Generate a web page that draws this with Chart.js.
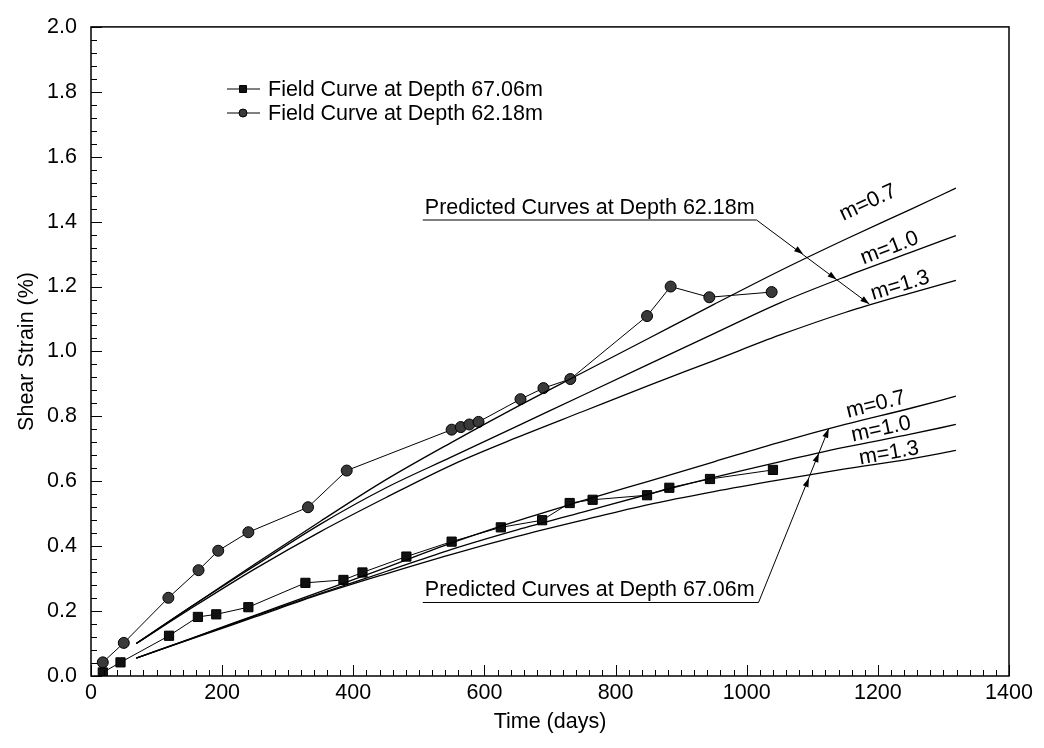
<!DOCTYPE html>
<html>
<head>
<meta charset="utf-8">
<title>Shear Strain vs Time</title>
<script src="https://cdn.jsdelivr.net/npm/chart.js@4.4.1/dist/chart.umd.min.js"></script>
<style>
  html, body { margin: 0; padding: 0; background: #fff; }
  #wrap { width: 1044px; height: 748px; }
</style>
</head>
<body>
<div id="wrap"><canvas id="strainChart" width="1044" height="748"></canvas></div>
<script>
// Field curve at depth 67.06 m (squares)
const daysField67 = [18, 45, 119, 163, 191, 240, 327, 385, 414, 481, 550, 625, 688, 730, 765, 848, 882, 944, 1040];
const strainField67 = [0.011, 0.042, 0.124, 0.182, 0.190, 0.212, 0.287, 0.296, 0.319, 0.368, 0.414, 0.458, 0.480, 0.533, 0.543, 0.557, 0.580, 0.607, 0.635];

// Field curve at depth 62.18 m (circles)
const daysField62 = [18, 50, 118, 164, 194, 240, 331, 390, 550, 564, 577, 591, 655, 690, 731, 848, 884, 943, 1038];
const strainField62 = [0.042, 0.102, 0.241, 0.326, 0.386, 0.443, 0.520, 0.633, 0.759, 0.767, 0.775, 0.783, 0.853, 0.887, 0.915, 1.109, 1.200, 1.167, 1.183];

// Predicted curves (same time points for all six)
const daysPred = [69, 150, 250, 350, 450, 550, 650, 750, 850, 950, 1050, 1150, 1250, 1319];
const pred62_m07 = [0.100, 0.210, 0.345, 0.477, 0.605, 0.720, 0.830, 0.935, 1.040, 1.145, 1.248, 1.345, 1.438, 1.503];
const pred62_m10 = [0.100, 0.210, 0.340, 0.468, 0.580, 0.675, 0.770, 0.865, 0.960, 1.055, 1.149, 1.230, 1.305, 1.357];
const pred62_m13 = [0.100, 0.205, 0.330, 0.445, 0.550, 0.650, 0.735, 0.815, 0.895, 0.972, 1.050, 1.120, 1.180, 1.219];
const pred67_m07 = [0.055, 0.114, 0.187, 0.260, 0.334, 0.410, 0.478, 0.540, 0.600, 0.660, 0.720, 0.775, 0.825, 0.862];
const pred67_m10 = [0.055, 0.113, 0.185, 0.255, 0.322, 0.390, 0.450, 0.505, 0.560, 0.612, 0.660, 0.705, 0.745, 0.775];
const pred67_m13 = [0.055, 0.112, 0.182, 0.252, 0.315, 0.375, 0.430, 0.480, 0.528, 0.568, 0.604, 0.638, 0.669, 0.695];

// Axis ranges / ticks
const xMin = 0, xMax = 1400, xStep = 200, xMinor = 20;
const yMin = 0, yMax = 2.0, yStep = 0.2, yMinor = 0.04;

const FONT = "'Liberation Sans', Arial, Helvetica, sans-serif";
const FONT_SIZE = 21.5;

function toPoints(xs, ys) {
    return xs.map((d, i) => ({ x: d, y: ys[i] }));
}

function predSet(values) {
    return {
        data: toPoints(daysPred, values),
        showLine: true,
        borderColor: '#000',
        borderWidth: 1.3,
        pointRadius: 0,
        cubicInterpolationMode: 'monotone',
        fill: false
    };
}

// Annotation text and arrows (data coordinates)
const notes = [
    {
        text: 'Predicted Curves at Depth 62.18m',
        under: [506, 1015, 1.405],
        arrowEnd: [1187, 1.146],
        heads: [[1086, 1.300], [1137, 1.222], [1187, 1.146]]
    },
    {
        text: 'Predicted Curves at Depth 67.06m',
        under: [506, 1018, 0.2265],
        arrowEnd: [1125, 0.762],
        heads: [[1095, 0.610], [1110, 0.686], [1125, 0.762]]
    }
];

const mLabels = [
    { text: 'm=0.7', at: [1185, 1.458], angle: -25 },
    { text: 'm=1.0', at: [1218, 1.318], angle: -21 },
    { text: 'm=1.3', at: [1234, 1.203], angle: -17 },
    { text: 'm=0.7', at: [1197, 0.836], angle: -14 },
    { text: 'm=1.0', at: [1205, 0.760], angle: -12 },
    { text: 'm=1.3', at: [1217, 0.686], angle: -10 }
];

const legendItems = [
    { text: 'Field Curve at Depth 67.06m', marker: 'square' },
    { text: 'Field Curve at Depth 62.18m', marker: 'circle' }
];

function drawMarker(ctx, kind, px, py, r) {
    ctx.beginPath();
    if (kind === 'square') {
        ctx.rect(px - r, py - r, 2 * r, 2 * r);
        ctx.fillStyle = '#111';
    } else {
        ctx.arc(px, py, r, 0, Math.PI * 2);
        ctx.fillStyle = '#3a3a3a';
    }
    ctx.fill();
    ctx.lineWidth = 1;
    ctx.strokeStyle = '#000';
    ctx.stroke();
}

function arrowHead(ctx, fromX, fromY, tipX, tipY) {
    const ang = Math.atan2(tipY - fromY, tipX - fromX);
    const len = 9, half = 3;
    ctx.beginPath();
    ctx.moveTo(tipX, tipY);
    ctx.lineTo(tipX - len * Math.cos(ang) + half * Math.sin(ang), tipY - len * Math.sin(ang) - half * Math.cos(ang));
    ctx.lineTo(tipX - len * Math.cos(ang) - half * Math.sin(ang), tipY - len * Math.sin(ang) + half * Math.cos(ang));
    ctx.closePath();
    ctx.fill();
}

const framePlugin = {
    id: 'framePlugin',
    afterDatasetsDraw(chart) {
        const { ctx, chartArea: a } = chart;
        const x = chart.scales.x, y = chart.scales.y;
        ctx.save();

        // frame
        ctx.strokeStyle = '#000';
        ctx.lineWidth = 1.5;
        ctx.strokeRect(a.left, a.top, a.right - a.left, a.bottom - a.top);

        // inward ticks on bottom and left
        ctx.lineWidth = 1;
        ctx.beginPath();
        const nx = Math.round((xMax - xMin) / xMinor);
        for (let i = 0; i <= nx; i++) {
            const px = Math.round(x.getPixelForValue(xMin + i * xMinor)) + 0.5;
            const len = (i % (xStep / xMinor) === 0) ? 11 : 6;
            ctx.moveTo(px, a.bottom);
            ctx.lineTo(px, a.bottom - len);
        }
        const ny = Math.round((yMax - yMin) / yMinor);
        for (let i = 0; i <= ny; i++) {
            const py = Math.round(y.getPixelForValue(yMin + i * yMinor)) + 0.5;
            const len = (i % Math.round(yStep / yMinor) === 0) ? 11 : 6;
            ctx.moveTo(a.left, py);
            ctx.lineTo(a.left + len, py);
        }
        ctx.stroke();

        // axis titles
        ctx.fillStyle = '#000';
        ctx.font = FONT_SIZE + 'px ' + FONT;
        ctx.textAlign = 'center';
        ctx.textBaseline = 'middle';
        ctx.fillText('Time (days)', (a.left + a.right) / 2, 722);
        ctx.save();
        ctx.translate(27, (a.top + a.bottom) / 2);
        ctx.rotate(-Math.PI / 2);
        ctx.fillText('Shear Strain (%)', 0, 0);
        ctx.restore();

        // annotations with underline + arrows
        notes.forEach(n => {
            const x0 = x.getPixelForValue(n.under[0]);
            const x1 = x.getPixelForValue(n.under[1]);
            const yu = y.getPixelForValue(n.under[2]);
            ctx.textAlign = 'left';
            ctx.textBaseline = 'alphabetic';
            ctx.fillText(n.text, x0 + 2, yu - 6);
            ctx.beginPath();
            ctx.lineWidth = 1;
            ctx.moveTo(x0, yu);
            ctx.lineTo(x1, yu);
            const ex = x.getPixelForValue(n.arrowEnd[0]);
            const ey = y.getPixelForValue(n.arrowEnd[1]);
            ctx.lineTo(ex, ey);
            ctx.stroke();
            n.heads.forEach(h => {
                arrowHead(ctx, x1, yu, x.getPixelForValue(h[0]), y.getPixelForValue(h[1]));
            });
        });

        // m= labels along the curves
        ctx.textAlign = 'center';
        ctx.textBaseline = 'middle';
        mLabels.forEach(m => {
            ctx.save();
            ctx.translate(x.getPixelForValue(m.at[0]), y.getPixelForValue(m.at[1]));
            ctx.rotate(m.angle * Math.PI / 180);
            ctx.fillText(m.text, 0, 0);
            ctx.restore();
        });

        // legend
        legendItems.forEach((item, i) => {
            const ly = 89 + i * 24;
            ctx.beginPath();
            ctx.lineWidth = 1;
            ctx.strokeStyle = '#000';
            ctx.moveTo(227, ly);
            ctx.lineTo(260, ly);
            ctx.stroke();
            drawMarker(ctx, item.marker, 243, ly, item.marker === 'square' ? 3.5 : 4);
            ctx.fillStyle = '#000';
            ctx.textAlign = 'left';
            ctx.textBaseline = 'middle';
            ctx.fillText(item.text, 268, ly + 1);
        });

        ctx.restore();
    }
};

const ctx = document.getElementById('strainChart');
new Chart(ctx, {
    type: 'scatter',
    data: {
        datasets: [
            predSet(pred62_m07),
            predSet(pred62_m10),
            predSet(pred62_m13),
            predSet(pred67_m07),
            predSet(pred67_m10),
            predSet(pred67_m13),
            {
                data: toPoints(daysField67, strainField67),
                showLine: true,
                borderColor: '#000',
                borderWidth: 1,
                pointStyle: 'rect',
                pointRadius: 6.5,
                pointBackgroundColor: '#111',
                pointBorderColor: '#000',
                pointBorderWidth: 1
            },
            {
                data: toPoints(daysField62, strainField62),
                showLine: true,
                borderColor: '#000',
                borderWidth: 1,
                pointStyle: 'circle',
                pointRadius: 5.5,
                pointBackgroundColor: '#3a3a3a',
                pointBorderColor: '#000',
                pointBorderWidth: 1
            }
        ]
    },
    options: {
        responsive: false,
        devicePixelRatio: 1,
        animation: false,
        layout: { padding: { left: 0, right: 35, top: 20, bottom: 0 } },
        plugins: {
            legend: { display: false },
            tooltip: { enabled: false }
        },
        scales: {
            x: {
                type: 'linear',
                min: xMin,
                max: xMax,
                grid: { display: false, drawTicks: false },
                border: { display: false },
                ticks: {
                    stepSize: xStep,
                    padding: 4,
                    color: '#000',
                    font: { family: FONT, size: FONT_SIZE },
                    maxRotation: 0,
                    callback: function(v) { return String(v); }
                },
                afterFit: function(scale) { scale.height = 72; }
            },
            y: {
                min: yMin,
                max: yMax,
                grid: { display: false, drawTicks: false },
                border: { display: false },
                ticks: {
                    stepSize: yStep,
                    padding: 14,
                    color: '#000',
                    font: { family: FONT, size: FONT_SIZE },
                    callback: function(v) { return v.toFixed(1); }
                },
                afterFit: function(scale) { scale.width = 91; }
            }
        }
    },
    plugins: [framePlugin]
});
</script>
</body>
</html>
